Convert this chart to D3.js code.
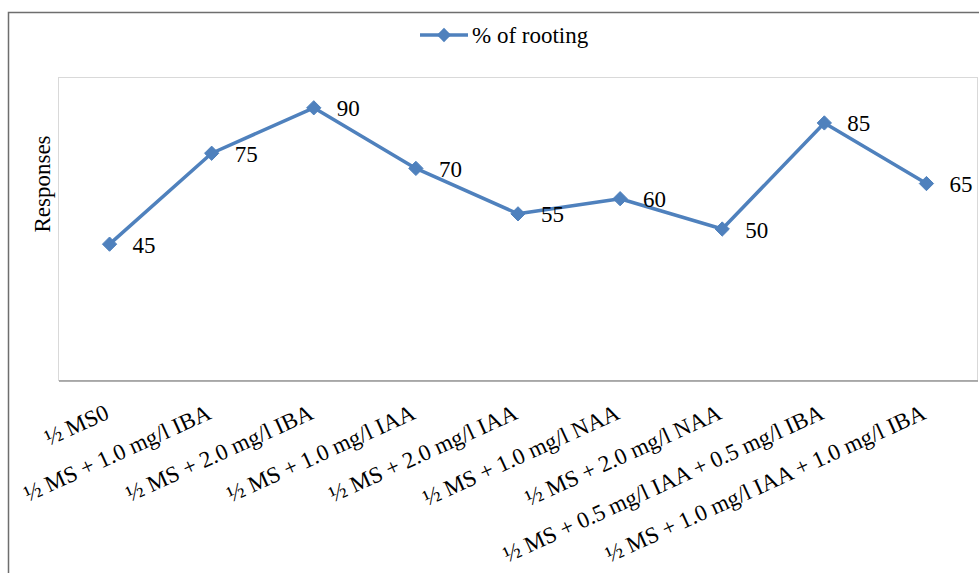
<!DOCTYPE html>
<html>
<head>
<meta charset="utf-8">
<script src="https://cdn.jsdelivr.net/npm/d3@7"></script>
<style>
  html, body { margin: 0; padding: 0; background: #fff; }
  svg { display: block; }
</style>
</head>
<body>
<svg id="chart" width="979" height="573"></svg>
<script>
const categories = [
  "½ MS0",
  "½ MS + 1.0 mg/l IBA",
  "½ MS + 2.0 mg/l IBA",
  "½ MS + 1.0 mg/l IAA",
  "½ MS + 2.0 mg/l IAA",
  "½ MS + 1.0 mg/l NAA",
  "½ MS + 2.0 mg/l NAA",
  "½ MS + 0.5 mg/l IAA + 0.5 mg/l IBA",
  "½ MS + 1.0 mg/l IAA + 1.0 mg/l IBA"
];
const rooting = [45, 75, 90, 70, 55, 60, 50, 85, 65];
const seriesName = "% of rooting";
const yTitle = "Responses";
const yDomain = [0, 100];

const FONT = "'Liberation Serif', 'Times New Roman', Times, 'DejaVu Serif', serif";
const svg = d3.select("#chart").attr("font-family", FONT);
const color = "#4f81bd";
const plot = { left: 58.5, top: 77.5, right: 977.5, bottom: 380.5 };

// outer frame
svg.append("rect")
  .attr("x", 8.5).attr("y", 12.5)
  .attr("width", 1000).attr("height", 1000)
  .attr("fill", "none").attr("stroke", "#6e6e6e").attr("stroke-width", 1.5);

const x = d3.scaleBand().domain(categories).range([plot.left, plot.right]);
const y = d3.scaleLinear().domain(yDomain).range([plot.bottom, plot.top]);

// plot area border
svg.append("rect")
  .attr("x", plot.left).attr("y", plot.top)
  .attr("width", plot.right - plot.left).attr("height", plot.bottom - plot.top)
  .attr("fill", "none").attr("stroke", "#d9d9d9").attr("stroke-width", 1);

// x axis line
const xAxis = d3.axisBottom(x).tickSize(0).tickFormat("");
const gx = svg.append("g").attr("transform", `translate(0,${plot.bottom})`).call(xAxis);
gx.select(".domain").attr("stroke", "#969696").attr("stroke-width", 1.5);

// category labels
svg.append("g").selectAll("text").data(categories).join("text")
  .attr("transform", d => `translate(${x(d) + x.bandwidth() / 2 + 1},418) rotate(-24.5)`)
  .attr("text-anchor", "end")
  .attr("font-family", FONT)
  .attr("font-size", 23)
  .text(d => d);

// y title
svg.append("text")
  .attr("transform", "translate(50,184) rotate(-90)")
  .attr("text-anchor", "middle")
  .attr("font-family", FONT)
  .attr("font-size", 23)
  .text(yTitle);

// line
const cx = (d, i) => x(categories[i]) + x.bandwidth() / 2;
const line = d3.line().x((d, i) => cx(d, i)).y(d => y(d));
svg.append("path").datum(rooting)
  .attr("d", line)
  .attr("fill", "none").attr("stroke", color).attr("stroke-width", 3.5)
  .attr("stroke-linejoin", "round");

// markers
const diamond = d3.symbol().type(d3.symbolDiamond2).size(130);
svg.append("g").selectAll("path").data(rooting).join("path")
  .attr("transform", (d, i) => `translate(${cx(d, i)},${y(d)})`)
  .attr("d", diamond)
  .attr("fill", color).attr("stroke", color).attr("stroke-width", 1);

// data labels
svg.append("g").selectAll("text").data(rooting).join("text")
  .attr("x", (d, i) => cx(d, i) + 23)
  .attr("y", d => y(d) + 8.5)
  .attr("font-family", FONT)
  .attr("font-size", 23)
  .text(d => d);

// legend
const lg = svg.append("g").attr("transform", "translate(420,35)");
lg.append("line").attr("x1", 0).attr("x2", 48).attr("y1", 0).attr("y2", 0)
  .attr("stroke", color).attr("stroke-width", 3.5);
lg.append("path").attr("transform", "translate(24,0)").attr("d", diamond)
  .attr("fill", color);
lg.append("text").attr("x", 52).attr("y", 8).attr("font-family", FONT)
  .attr("font-size", 23).text(seriesName);
</script>
</body>
</html>
